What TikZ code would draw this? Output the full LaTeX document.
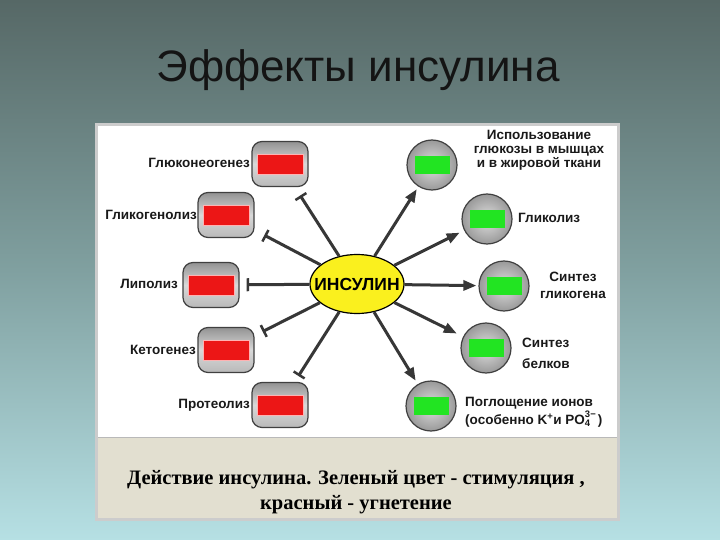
\documentclass[tikz,border=0pt]{standalone}
\usepackage{fontspec}
\setmainfont{Liberation Sans}
\newfontfamily\serifcap{Liberation Serif}
\usetikzlibrary{shapes.misc,shapes.geometric,arrows.meta}
\definecolor{bgtop}{RGB}{86,104,102}
\definecolor{bgmid}{RGB}{128,160,160}
\definecolor{bgbot}{RGB}{182,224,228}
\definecolor{beigec}{RGB}{226,223,208}
\definecolor{linec}{RGB}{55,55,55}
\definecolor{redc}{RGB}{236,22,22}
\definecolor{greenc}{RGB}{34,228,34}
\definecolor{yelc}{RGB}{250,240,30}
\newcommand\labfont{\fontsize{13.5}{14}\selectfont\bfseries}
\begin{document}
\begin{tikzpicture}[x=1pt,y=-1pt,
  redbox/.style={rectangle, rounded corners=10pt, minimum width=56pt, minimum height=45pt,
     inner sep=0pt, top color=gray!85, bottom color=gray!55, middle color=gray!30, draw=black!75, line width=1.2pt},
  redin/.style={rectangle, minimum width=46pt, minimum height=20pt, inner sep=0pt, fill=redc, draw=red!30!white, line width=0.8pt},
  grnbox/.style={circle, minimum size=50pt, inner sep=0pt, inner color=gray!25, outer color=gray!80, draw=black!75, line width=1.2pt},
  grnin/.style={rectangle, minimum width=35pt, minimum height=18pt, inner sep=0pt, fill=greenc},
  lbl/.style={font=\labfont, inner sep=0pt, text=black!90},
  inh/.style={draw=linec, line width=3pt, -{Bar[width=13pt,line width=2.5pt]}},
  act/.style={draw=linec, line width=3pt, -{Triangle[width=10pt,length=13pt]}}
]
\useasboundingbox (0,0) rectangle (720,540);
\fill[top color=bgtop, bottom color=bgbot, middle color=bgmid] (0,0) rectangle (720,540);
\node[font=\fontsize{44}{50}\selectfont, text=black!92, inner sep=0pt] (title) at (358,70) {Эффекты инсулина};
% panel
\fill[gray!40] (95,123) rectangle (620,521);
\fill[white] (98,126) rectangle (617,518);
\fill[beigec] (98,437) rectangle (617,518);
\draw[gray!55, line width=0.6pt] (98,437) -- (617,437);
% center
\node[ellipse, minimum width=94pt, minimum height=59pt, inner sep=0pt, fill=yelc, draw=black, line width=1.2pt] (ins) at (357,284) {};
\node[font=\fontsize{17.5}{19}\selectfont\bfseries, inner sep=0pt] (inst) at (ins) {ИНСУЛИН};
% red boxes
\node[redbox] (b1) at (280,164) {};
\node[redin] (b1r) at (b1) {};
\node[redbox] (b2) at (226,215) {};
\node[redin] (b2r) at (b2) {};
\node[redbox] (b3) at (211,285) {};
\node[redin] (b3r) at (b3) {};
\node[redbox] (b4) at (226,350) {};
\node[redin] (b4r) at (b4) {};
\node[redbox] (b5) at (280,405) {};
\node[redin] (b5r) at (b5) {};
% green circles
\node[grnbox] (g1) at (432,165) {};
\node[grnin] (g1r) at (g1) {};
\node[grnbox] (g2) at (487,219) {};
\node[grnin] (g2r) at (g2) {};
\node[grnbox] (g3) at (504,286) {};
\node[grnin] (g3r) at (g3) {};
\node[grnbox] (g4) at (486,348) {};
\node[grnin] (g4r) at (g4) {};
\node[grnbox] (g5) at (431,406) {};
\node[grnin] (g5r) at (g5) {};
% labels
\node[lbl, anchor=east] (l1) at (250,163) {Глюконеогенез};
\node[lbl, anchor=east] (l2) at (197,215) {Гликогенолиз};
\node[lbl, anchor=east] (l3) at (178,284) {Липолиз};
\node[lbl, anchor=east] (l4) at (196,350) {Кетогенез};
\node[lbl, anchor=east] (l5) at (250,405) {Протеолиз};
\node[lbl, align=center] (m1) at (539,150) {Использование\\глюкозы в мышцах\\и в жировой ткани};
\node[lbl, anchor=west] (m2) at (518,218) {Гликолиз};
\node[lbl, align=center] (m3) at (573,285) {Синтез\\[3pt]гликогена};
\node[lbl, align=left, anchor=west] (m4) at (522,353) {Синтез\\[7pt]белков};
\node[lbl, align=left, anchor=west] (m5) at (465,412) {Поглощение ионов\\[1pt](особенно K\textsuperscript{+}и PO\rlap{\raisebox{1.5pt}{\textsuperscript{3−}}}\textsubscript{4}\hspace{7pt})};
% connectors
\draw[inh, shorten >=10pt] (ins) -- (b1);
\draw[inh, shorten >=11pt] (ins) -- (b2);
\draw[inh, shorten >=7pt] (ins) -- (b3);
\draw[inh, shorten >=9pt] (ins) -- (b4);
\draw[inh, shorten >=7pt] (ins) -- (b5);
\draw[act, shorten >=3pt] (ins) -- (g1);
\draw[act, shorten >=5pt] (ins) -- (g2);
\draw[act, shorten >=2pt] (ins) -- (g3);
\draw[act, shorten >=7pt] (ins) -- (g4);
\draw[act, shorten >=4pt] (ins) -- (g5);
% caption
\node[font=\serifcap\bfseries\fontsize{20.5}{25}\selectfont, align=center, inner sep=0pt] (cap) at (356,492)
  {Действие инсулина. Зеленый цвет - стимуляция ,\\красный - угнетение};
\end{tikzpicture}
\end{document}
